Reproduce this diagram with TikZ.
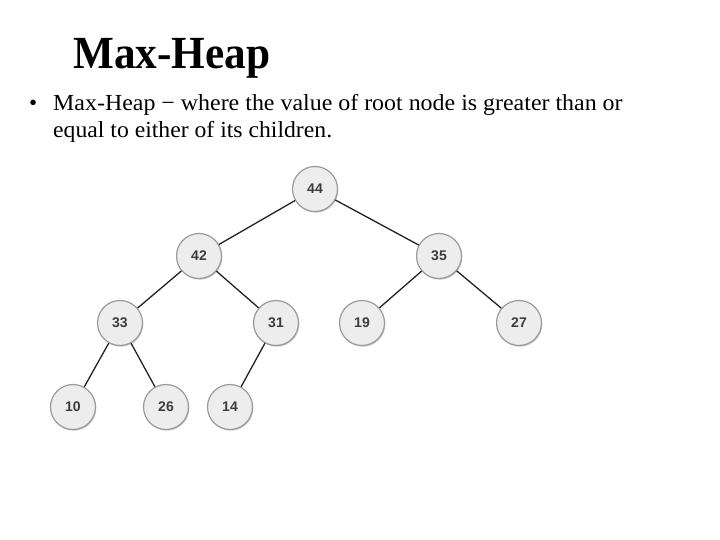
\documentclass[tikz,border=0pt]{standalone}
\usepackage{fontspec}
\setmainfont{Liberation Serif}
\newfontfamily\nodefont{Liberation Sans}
\usetikzlibrary{shadows}
\definecolor{nodefill}{HTML}{EDEDED}
\definecolor{nodeborder}{HTML}{9A9A9A}
\definecolor{nodetext}{HTML}{3C3C3C}
\definecolor{edgecol}{HTML}{222222}
\begin{document}
\begin{tikzpicture}[x=1pt,y=-1pt,
  heapnode/.style={circle,draw=nodeborder,line width=1.2pt,fill=nodefill,minimum size=45pt,inner sep=0pt,
    font=\nodefont\bfseries\fontsize{14}{16}\selectfont,text=nodetext,
    drop shadow={shadow xshift=0.8pt,shadow yshift=-1.2pt,opacity=0.35,fill=black!60}},
  heapedge/.style={draw=edgecol,line width=1.3pt},
  bodytext/.style={anchor=base west,inner sep=0pt,font=\fontsize{23}{27}\selectfont}]
\useasboundingbox (0,0) rectangle (720,540);
\node[anchor=base west,inner sep=0pt,font=\bfseries\fontsize{46}{50}\selectfont] (title) at (73,69) {\scalebox{0.94}[1]{Max-Heap}};
\node[bodytext] (bullet) at (29,111) {\textbullet};
\node[bodytext] (line1) at (53,111) {\scalebox{1.04}[1]{Max-Heap − where the value of root node is greater than or}};
\node[bodytext] (line2) at (53,138) {\scalebox{1.03}[1]{equal to either of its children.}};
\node[heapnode] (n44) at (315,189) {44};
\node[heapnode] (n42) at (199,256) {42};
\node[heapnode] (n35) at (439,256) {35};
\node[heapnode] (n33) at (120,323) {33};
\node[heapnode] (n31) at (276,323) {31};
\node[heapnode] (n19) at (362,323) {19};
\node[heapnode] (n27) at (519,323) {27};
\node[heapnode] (n10) at (73,407) {10};
\node[heapnode] (n26) at (166,407) {26};
\node[heapnode] (n14) at (230,407) {14};
\draw[heapedge] (n44) -- (n42);
\draw[heapedge] (n44) -- (n35);
\draw[heapedge] (n42) -- (n33);
\draw[heapedge] (n42) -- (n31);
\draw[heapedge] (n35) -- (n19);
\draw[heapedge] (n35) -- (n27);
\draw[heapedge] (n33) -- (n10);
\draw[heapedge] (n33) -- (n26);
\draw[heapedge] (n31) -- (n14);
\end{tikzpicture}
\end{document}
